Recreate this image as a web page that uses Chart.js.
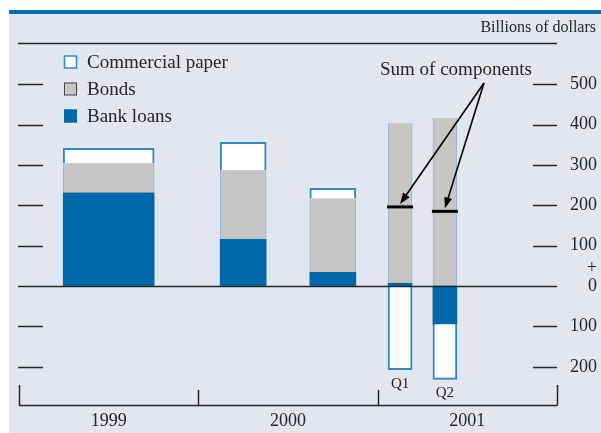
<!DOCTYPE html>
<html>
<head>
<meta charset="utf-8">
<script src="https://cdn.jsdelivr.net/npm/chart.js@4.4.1/dist/chart.umd.min.js"></script>
<style>
  html, body { margin: 0; padding: 0; background: #fff; }
  #wrap { width: 601px; height: 433px; }
</style>
</head>
<body>
<div id="wrap"><canvas id="grafico"></canvas></div>
<script>
// periodos: ponto medio de cada barra em anos
const periods = [1999.5, 2000.25, 2000.75, 2001.125, 2001.375];
const periodKind = ['year', 'half', 'half', 'quarter', 'quarter'];
const periodLabels = ['', '', '', 'Q1', 'Q2'];
const bankLoans = [231, 116, 34, 7, -94];
const bonds = [73, 171, 183, 396, 416];
const commercialPaper = [37, 69, 25, -207, -137];
const yearLabels = ['1999', '2000', '2001'];
const yearEdges = [1999, 2000, 2001, 2002];
const yTicks = [500, 400, 300, 200, 100, 0, -100, -200];

const BLUE = '#0068ab';
const GRAY = '#c6c6c4';
const BG = '#e1e6f0';
const INK = '#262626';
const SERIF = '"Liberation Serif", "DejaVu Serif", serif';

const thickness = { year: 91, half: 46, quarter: 24 };

const series = [
  { label: 'Bank loans', values: bankLoans, fill: BLUE, border: BLUE, width: 0 },
  { label: 'Bonds', values: bonds, fill: GRAY, border: '#8fb6dc', width: { left: 1, right: 1, top: 0, bottom: 0 } },
  { label: 'Commercial paper', values: commercialPaper, fill: '#ffffff', border: '#2f86c8', width: 2 }
];

// soma dos componentes, mostrada so nos trimestres
const sums = periods.map((p, i) => bankLoans[i] + bonds[i] + commercialPaper[i]);

const datasets = [];
series.forEach(s => {
  Object.keys(thickness).forEach(kind => {
    const pts = [];
    periods.forEach((p, i) => { if (periodKind[i] === kind) pts.push({ x: p, y: s.values[i] }); });
    datasets.push({
      type: 'bar',
      label: s.label,
      data: pts,
      stack: 'bars',
      order: 1,
      barThickness: thickness[kind],
      backgroundColor: s.fill,
      borderColor: s.border,
      borderWidth: s.width
    });
  });
});
datasets.push({
  type: 'scatter',
  label: 'Sum of components',
  data: periods.map((p, i) => ({ x: p, y: sums[i] })).filter((d, i) => periodKind[i] === 'quarter'),
  stack: 'sum',
  order: 0,
  pointStyle: 'line',
  pointRadius: 13,
  pointHoverRadius: 13,
  borderWidth: 3,
  borderColor: '#000'
});

function arrow(ctx, x0, y0, x1, y1) {
  const a = Math.atan2(y1 - y0, x1 - x0);
  const L = 11, W = 4;
  ctx.beginPath();
  ctx.moveTo(x0, y0);
  ctx.lineTo(x1 - L * 0.7 * Math.cos(a), y1 - L * 0.7 * Math.sin(a));
  ctx.stroke();
  ctx.beginPath();
  ctx.moveTo(x1, y1);
  ctx.lineTo(x1 - L * Math.cos(a) + W * Math.sin(a), y1 - L * Math.sin(a) - W * Math.cos(a));
  ctx.lineTo(x1 - L * Math.cos(a) - W * Math.sin(a), y1 - L * Math.sin(a) + W * Math.cos(a));
  ctx.closePath();
  ctx.fill();
}

const decor = {
  id: 'decor',
  beforeDraw(chart) {
    const ctx = chart.ctx;
    ctx.save();
    ctx.fillStyle = '#fff';
    ctx.fillRect(0, 0, chart.width, chart.height);
    ctx.fillStyle = BG;
    ctx.fillRect(9, 13, chart.width - 9, chart.height - 13);
    ctx.fillStyle = '#0a6cb3';
    ctx.fillRect(9, 10, chart.width - 9, 4);
    ctx.restore();
  },
  afterDraw(chart) {
    const ctx = chart.ctx;
    const xs = chart.scales.x, ys = chart.scales.y;
    const area = chart.chartArea;
    ctx.save();
    ctx.strokeStyle = INK;
    ctx.fillStyle = INK;
    ctx.lineWidth = 1.5;

    // linha do cabecalho
    ctx.beginPath();
    ctx.moveTo(18, 43.5); ctx.lineTo(area.right, 43.5);
    ctx.stroke();
    ctx.font = '16px ' + SERIF;
    ctx.textAlign = 'right';
    ctx.textBaseline = 'middle';
    ctx.fillText('Billions of dollars', 596, 28);

    // tracinhos dos dois lados
    yTicks.forEach(v => {
      if (v === 0) return;
      const y = Math.round(ys.getPixelForValue(v)) + 0.5;
      ctx.beginPath();
      ctx.moveTo(18, y); ctx.lineTo(43, y);
      ctx.moveTo(area.right - 24, y); ctx.lineTo(area.right, y);
      ctx.stroke();
    });
    // linha do zero
    const y0 = Math.round(ys.getPixelForValue(0)) + 0.5;
    ctx.beginPath();
    ctx.moveTo(18, y0); ctx.lineTo(area.right, y0);
    ctx.stroke();
    ctx.font = '18px ' + SERIF;
    ctx.textAlign = 'right';
    ctx.fillText('+', 597, y0 - 18);

    // chave dos anos
    const base = 405.5;
    ctx.beginPath();
    ctx.moveTo(xs.getPixelForValue(yearEdges[0]), base);
    ctx.lineTo(xs.getPixelForValue(yearEdges[yearEdges.length - 1]), base);
    yearEdges.forEach((e, i) => {
      const x = Math.round(xs.getPixelForValue(e)) + 0.5;
      const top = (i === 0 || i === yearEdges.length - 1) ? 385 : 390;
      ctx.moveTo(x, top); ctx.lineTo(x, base);
    });
    ctx.stroke();
    ctx.textAlign = 'center';
    yearLabels.forEach((t, i) => {
      ctx.fillText(t, xs.getPixelForValue((yearEdges[i] + yearEdges[i + 1]) / 2), 421);
    });

    // rotulos dos trimestres
    ctx.font = '15px ' + SERIF;
    periods.forEach((p, i) => {
      if (!periodLabels[i]) return;
      let neg = 0;
      series.forEach(s => { if (s.values[i] < 0) neg += s.values[i]; });
      ctx.fillText(periodLabels[i], xs.getPixelForValue(p), ys.getPixelForValue(neg) + 14);
    });

    // legenda
    ctx.font = '19px ' + SERIF;
    ctx.textAlign = 'left';
    const legendOrder = [2, 1, 0];
    legendOrder.forEach((k, r) => {
      const s = series[k];
      const cy = 62 + r * 27;
      ctx.fillStyle = s.fill;
      ctx.fillRect(64, cy - 6.5, 13, 13);
      ctx.lineWidth = k === 2 ? 1.5 : 1;
      ctx.strokeStyle = k === 2 ? '#2f86c8' : (k === 1 ? '#444' : BLUE);
      ctx.strokeRect(64.5, cy - 6, 12, 12);
      ctx.fillStyle = INK;
      ctx.fillText(s.label, 87, cy + 1);
    });

    // anotacao da soma
    ctx.textAlign = 'center';
    ctx.fillText('Sum of components', 456, 70);
    ctx.strokeStyle = '#000';
    ctx.fillStyle = '#000';
    ctx.lineWidth = 1.6;
    const meta = chart.getDatasetMeta(chart.data.datasets.length - 1);
    meta.data.forEach(pt => {
      arrow(ctx, 484, 83, pt.x, pt.y - 3);
    });
    ctx.restore();
  }
};

const ctx = document.getElementById('grafico').getContext('2d');
new Chart(ctx, {
  type: 'bar',
  data: { datasets: datasets },
  options: {
    responsive: true,
    maintainAspectRatio: false,
    animation: false,
    layout: { padding: { left: 19, top: 68, right: 4, bottom: 46 } },
    plugins: {
      legend: { display: false },
      tooltip: { enabled: false }
    },
    scales: {
      x: {
        type: 'linear',
        min: yearEdges[0],
        max: yearEdges[yearEdges.length - 1],
        offset: false,
        display: false
      },
      y: {
        position: 'right',
        stacked: true,
        min: -250,
        max: 540,
        grid: { display: false },
        border: { display: false },
        afterBuildTicks: s => { s.ticks = yTicks.map(v => ({ value: v })); },
        afterFit: s => { s.width = 40; },
        ticks: {
          crossAlign: 'far',
          padding: 12,
          color: INK,
          font: { family: SERIF, size: 18 },
          callback: v => String(Math.abs(v))
        }
      }
    }
  },
  plugins: [decor]
});
</script>
</body>
</html>
